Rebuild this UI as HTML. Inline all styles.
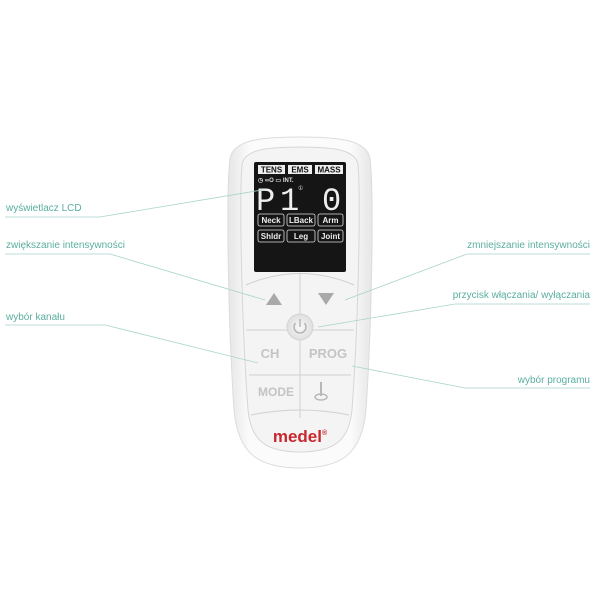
<!DOCTYPE html>
<html><head><meta charset="utf-8"><style>
html,body{margin:0;padding:0;background:#fff;width:600px;height:600px;overflow:hidden}
svg{display:block}
.lbl{font-family:"Liberation Sans",sans-serif;font-size:10px;fill:#5aae9f}
.ln{stroke:#a9d3cc;stroke-width:0.8;fill:none}
.lcd{font-family:"Liberation Sans",sans-serif;font-weight:bold;font-size:8px}
.btn{font-family:"Liberation Sans",sans-serif;font-size:13px;fill:#c4c4c4;font-weight:bold}
.dig{font-family:'Liberation Mono',monospace;font-size:32px;fill:#eee}
</style></head><body>
<svg width="600" height="600" viewBox="0 0 600 600">
<defs>
<linearGradient id="bg" x1="0" x2="1"><stop offset="0" stop-color="#e6e6e6"/><stop offset="0.15" stop-color="#fbfbfb"/><stop offset="0.85" stop-color="#fbfbfb"/><stop offset="1" stop-color="#e6e6e6"/></linearGradient>
<radialGradient id="pw"><stop offset="0" stop-color="#fafafa"/><stop offset="1" stop-color="#dedede"/></radialGradient>
</defs>
<path d="M300,137 C340,137 366,140 370,158 C374,190 372,320 366,410 C362,455 340,468 300,468 C260,468 238,455 234,410 C228,320 226,190 230,158 C234,140 260,137 300,137 Z" fill="url(#bg)" stroke="#dcdcdc" stroke-width="1"/>
<path d="M300,147 C335,147 356,150 358,165 C361,200 358,330 352,410 C349,440 335,452 300,452 C265,452 251,440 248,410 C242,330 239,200 242,165 C244,150 265,147 300,147 Z" fill="#f4f4f4" stroke="#d6d6d6" stroke-width="1"/>
<path d="M246,285 Q300,262 354,285" fill="none" stroke="#d0d0d0"/>
<line x1="246" y1="330" x2="354" y2="330" stroke="#d0d0d0"/>
<line x1="249" y1="375" x2="351" y2="375" stroke="#d0d0d0"/>
<path d="M251,415 Q300,405 349,415" fill="none" stroke="#d0d0d0"/>
<line x1="300" y1="274" x2="300" y2="418" stroke="#d0d0d0"/>
<rect x="254" y="162" width="92" height="110" rx="2" fill="#151515"/>
<rect x="258" y="165" width="27" height="9" fill="#eee"/><text x="271.5" y="172.5" text-anchor="middle" class="lcd" fill="#111">TENS</text>
<rect x="288" y="165" width="24" height="9" fill="#eee"/><text x="300" y="172.5" text-anchor="middle" class="lcd" fill="#111">EMS</text>
<rect x="315" y="165" width="28" height="9" fill="#eee"/><text x="329" y="172.5" text-anchor="middle" class="lcd" fill="#111">MASS</text>
<text x="258" y="182" class="lcd" fill="#ddd" style="font-size:6px">◷ ∞O ▭  INT.</text>
<text x="256" y="210" class="dig">P</text>
<text x="280" y="210" class="dig">1</text>
<text x="322" y="210" class="dig">0</text>
<text x="298" y="190" fill="#ddd" style="font-size:6px;font-family:'Liberation Sans'">①</text>
<g fill="none" stroke="#ddd" stroke-width="0.8">
<rect x="258" y="214" width="26" height="12" rx="2"/><rect x="287" y="214" width="28" height="12" rx="2"/><rect x="318" y="214" width="25" height="12" rx="2"/>
<rect x="258" y="230" width="26" height="12" rx="2"/><rect x="287" y="230" width="28" height="12" rx="2"/><rect x="318" y="230" width="25" height="12" rx="2"/>
</g>
<g class="lcd" fill="#eee" text-anchor="middle">
<text x="271" y="223">Neck</text><text x="301" y="223">LBack</text><text x="330.5" y="223">Arm</text>
<text x="271" y="239">Shldr</text><text x="301" y="239">Leg</text><text x="330.5" y="239">Joint</text>
</g>
<polygon points="266,305 282,305 274,293" fill="#a9a9a9"/>
<polygon points="318,293 334,293 326,305" fill="#a9a9a9"/>
<circle cx="300" cy="327" r="13" fill="url(#pw)" stroke="#d4d4d4"/>
<path d="M295.5,323 A6,6 0 1,0 304.5,323" fill="none" stroke="#b5b5b5" stroke-width="1.5"/>
<line x1="300" y1="319" x2="300" y2="327" stroke="#b5b5b5" stroke-width="1.5"/>
<text x="270" y="358" text-anchor="middle" class="btn">CH</text>
<text x="328" y="358" text-anchor="middle" class="btn">PROG</text>
<text x="276" y="396" text-anchor="middle" class="btn" style="font-size:12px">MODE</text>
<line x1="321" y1="382" x2="321" y2="396" stroke="#b8b8b8" stroke-width="2"/>
<ellipse cx="321" cy="397" rx="6" ry="3" fill="none" stroke="#b8b8b8" stroke-width="1.5"/>
<text x="300" y="442" text-anchor="middle" style="font-family:'Liberation Sans',sans-serif;font-weight:bold;font-size:17px;fill:#c8282d">medel<tspan style="font-size:7px" dy="-7">®</tspan></text>
<polyline class="ln" points="5,217 100,217 262,190"/>
<polyline class="ln" points="5,254 110,254 265,300"/>
<polyline class="ln" points="5,325 105,325 258,363"/>
<polyline class="ln" points="590,254 467,254 345,300"/>
<polyline class="ln" points="590,304 455,304 318,327"/>
<polyline class="ln" points="590,388 465,388 352,366"/>
<text x="6" y="211" class="lbl">wyświetlacz LCD</text>
<text x="6" y="248" class="lbl">zwiększanie intensywności</text>
<text x="6" y="320" class="lbl">wybór kanału</text>
<text x="590" y="248" text-anchor="end" class="lbl">zmniejszanie intensywności</text>
<text x="590" y="298" text-anchor="end" class="lbl">przycisk włączania/ wyłączania</text>
<text x="590" y="383" text-anchor="end" class="lbl">wybór programu</text>
</svg>
</body></html>
